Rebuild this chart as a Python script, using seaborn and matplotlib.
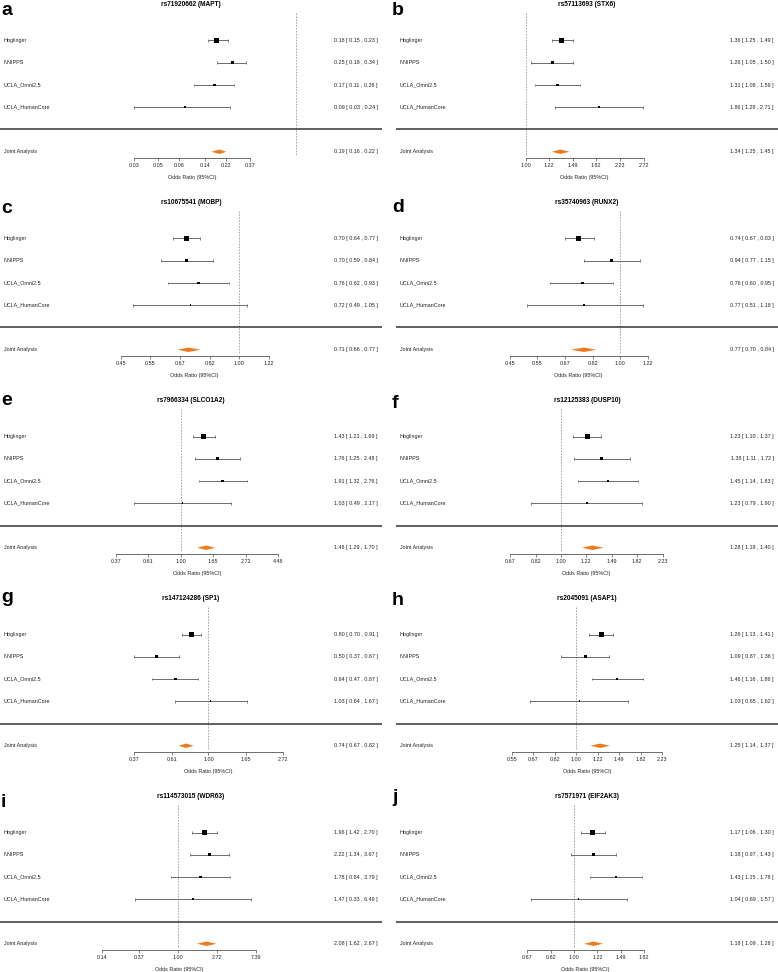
import matplotlib
matplotlib.use('Agg')
import matplotlib.pyplot as plt
import matplotlib.transforms as mtransforms
from matplotlib.ticker import NullLocator
import numpy as np
import pandas as pd
import seaborn as sns

# ---- data ----
studies = ['Hoglinger', 'NNIPPS', 'UCLA_Omni2.5', 'UCLA_HumanCore']
joint_label = 'Joint Analysis'
letters = ['a', 'b', 'c', 'd', 'e', 'f', 'g', 'h', 'i', 'j']
titles = ['rs71920662 (MAPT)', 'rs57113693 (STX6)', 'rs10675541 (MOBP)',
          'rs35740963 (RUNX2)', 'rs7966334 (SLCO1A2)', 'rs12125383 (DUSP10)',
          'rs147124286 (SP1)', 'rs2045091 (ASAP1)', 'rs114573015 (WDR63)',
          'rs7571971 (EIF2AK3)']

odds = [[0.18, 0.25, 0.17, 0.09], [1.36, 1.26, 1.31, 1.86],
        [0.70, 0.70, 0.76, 0.72], [0.74, 0.94, 0.76, 0.77],
        [1.43, 1.76, 1.91, 1.03], [1.23, 1.38, 1.45, 1.23],
        [0.80, 0.50, 0.64, 1.03], [1.26, 1.09, 1.46, 1.03],
        [1.96, 2.22, 1.78, 1.47], [1.17, 1.18, 1.43, 1.04]]
lower = [[0.15, 0.18, 0.11, 0.03], [1.25, 1.05, 1.08, 1.28],
         [0.64, 0.59, 0.62, 0.49], [0.67, 0.77, 0.60, 0.51],
         [1.21, 1.25, 1.32, 0.49], [1.10, 1.11, 1.14, 0.79],
         [0.70, 0.37, 0.47, 0.64], [1.13, 0.87, 1.16, 0.65],
         [1.42, 1.34, 0.84, 0.33], [1.06, 0.97, 1.15, 0.69]]
upper = [[0.23, 0.34, 0.26, 0.24], [1.49, 1.50, 1.59, 2.71],
         [0.77, 0.84, 0.93, 1.05], [0.83, 1.15, 0.95, 1.18],
         [1.69, 2.48, 2.76, 2.17], [1.37, 1.72, 1.83, 1.90],
         [0.91, 0.67, 0.87, 1.67], [1.41, 1.36, 1.86, 1.62],
         [2.70, 3.67, 3.79, 6.49], [1.30, 1.43, 1.78, 1.57]]
joint_or = [0.19, 1.34, 0.71, 0.77, 1.48, 1.28, 0.74, 1.25, 2.08, 1.18]
joint_lo = [0.16, 1.25, 0.66, 0.70, 1.29, 1.18, 0.67, 1.14, 1.62, 1.09]
joint_hi = [0.22, 1.45, 0.77, 0.84, 1.70, 1.40, 0.82, 1.37, 2.67, 1.28]

ticks = [[0.03, 0.05, 0.08, 0.14, 0.22, 0.37],
         [1.00, 1.22, 1.49, 1.82, 2.23, 2.72],
         [0.45, 0.55, 0.67, 0.82, 1.00, 1.22],
         [0.45, 0.55, 0.67, 0.82, 1.00, 1.22],
         [0.37, 0.61, 1.00, 1.65, 2.72, 4.48],
         [0.67, 0.82, 1.00, 1.22, 1.49, 1.82, 2.23],
         [0.37, 0.61, 1.00, 1.65, 2.72],
         [0.55, 0.67, 0.82, 1.00, 1.22, 1.49, 1.82, 2.23],
         [0.14, 0.37, 1.00, 2.72, 7.39],
         [0.67, 0.82, 1.00, 1.22, 1.49, 1.82]]

# ---- layout (pixels / log-odds limits of each panel) ----
W, H = 778, 972
PW, PH = 382, 180
col_x = [0, 396]
row_step = 198
log_limits = [(-6.40, 1.85), (-1.10, 2.14), (-1.61, 0.96), (-1.62, 1.14),
              (-2.77, 3.09), (-1.30, 1.71), (-2.80, 2.33), (-1.68, 1.88),
              (-4.58, 5.24), (-1.52, 1.74)]
letter_base = [15, 15, 213, 212, 405, 408, 602, 605, 807, 802]
box_area = [13, 4.8, 3.4, 1.3]
row_px0, row_gap = 40.5, 22.25

def yrow(px):
    return (px - row_px0) / row_gap

sns.set_theme(style='white')
plt.rcParams['font.family'] = ['Liberation Sans', 'DejaVu Sans']

txt = '#222222'
fs = 3.9
fig = plt.figure(figsize=(W / 100, H / 100), dpi=100)

for i in range(10):
    x0 = col_x[i % 2]
    y0 = (i // 2) * row_step
    ax = fig.add_axes([x0 / W, 1 - (y0 + PH) / H, PW / W, PH / H])
    ax.set_xscale('log')

    df = pd.DataFrame({'study': studies, 'OR': odds[i], 'lo': lower[i],
                       'hi': upper[i], 'row': range(len(studies))})

    # confidence intervals with little end caps
    ax.hlines(df['row'], df['lo'], df['hi'], color='#555555', lw=0.6)
    ax.vlines(df['lo'], df['row'] - 0.06, df['row'] + 0.06, color='#555555', lw=0.5)
    ax.vlines(df['hi'], df['row'] - 0.06, df['row'] + 0.06, color='#555555', lw=0.5)
    sns.scatterplot(data=df, x='OR', y='row', size='study',
                    sizes=dict(zip(studies, box_area)), marker='s',
                    color='black', linewidth=0, legend=False, ax=ax, zorder=3)

    # joint estimate as diamond
    jr = len(studies) + 1
    ax.fill([joint_lo[i], joint_or[i], joint_hi[i], joint_or[i]],
            [jr, jr - 0.1, jr, jr + 0.1], color='#EE7A1E', lw=0, zorder=3)

    # reference line at OR = 1 and separator
    ax.vlines(1.0, yrow(13), yrow(156), color='#9a9a9a', lw=0.6,
              linestyles=(0, (2, 1.5)), zorder=1)
    ax.axhline(len(studies), color='#444444', lw=1.2)

    ax.set_xlim(np.exp(log_limits[i][0]), np.exp(log_limits[i][1]))
    ax.set_ylim(yrow(PH), yrow(0))
    ax.set_xlabel('')
    ax.set_ylabel('')
    ax.set_yticks([])

    # bottom axis only over the tick range
    for s in ['top', 'left', 'right']:
        ax.spines[s].set_visible(False)
    ax.spines['bottom'].set_position(('data', yrow(158)))
    ax.spines['bottom'].set_bounds(ticks[i][0], ticks[i][-1])
    ax.spines['bottom'].set_color('#555555')
    ax.spines['bottom'].set_linewidth(0.6)
    ax.set_xticks(ticks[i])
    ax.set_xticklabels([f'{t:.2f}' for t in ticks[i]])
    ax.xaxis.set_minor_locator(NullLocator())
    ax.tick_params(axis='x', bottom=True, length=2, width=0.5, pad=1.5,
                   labelsize=fs, color='#555555', labelcolor=txt)
    ax.patch.set_alpha(0)

    trans = mtransforms.blended_transform_factory(ax.transAxes, ax.transData)
    for r, name in enumerate(studies):
        ax.text(4 / PW, r, name, transform=trans, fontsize=fs, color=txt, va='center')
        ax.text(378 / PW, r, f'{odds[i][r]:.2f} [ {lower[i][r]:.2f} , {upper[i][r]:.2f} ]',
                transform=trans, fontsize=fs, color=txt, va='center', ha='right')
    ax.text(4 / PW, jr, joint_label, transform=trans, fontsize=fs, color=txt, va='center')
    ax.text(378 / PW, jr, f'{joint_or[i]:.2f} [ {joint_lo[i]:.2f} , {joint_hi[i]:.2f} ]',
            transform=trans, fontsize=fs, color=txt, va='center', ha='right')

    ax.text(np.sqrt(ticks[i][0] * ticks[i][-1]), yrow(177), 'Odds Ratio (95%CI)',
            fontsize=fs, color=txt, ha='center', va='center')
    ax.text(0.5, 1 - 4 / PH, titles[i], transform=ax.transAxes, fontsize=4.7,
            fontweight='bold', color='black', ha='center', va='center')

    fig.text((1 if i % 2 == 0 else 392) / W, 1 - letter_base[i] / H, letters[i],
             fontsize=14, fontweight='bold', color='black', va='baseline')

fig.savefig('out.png', dpi=100)
